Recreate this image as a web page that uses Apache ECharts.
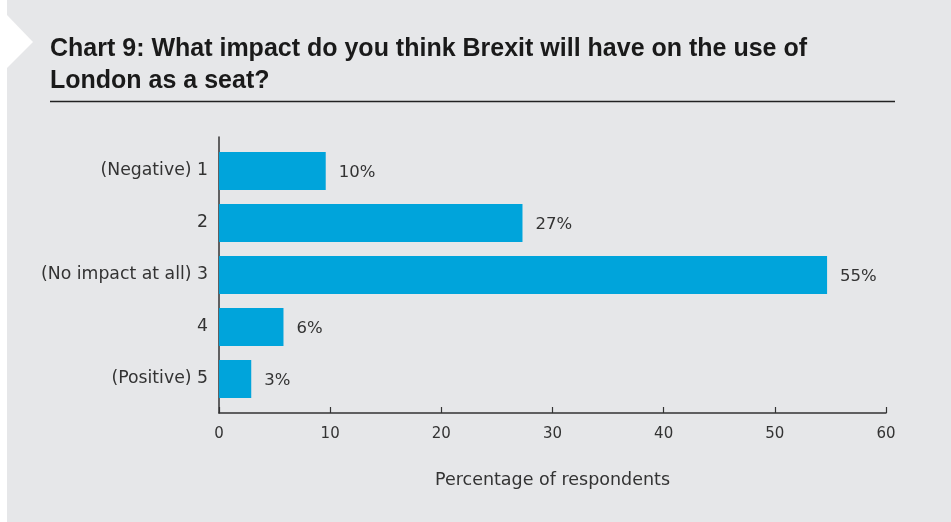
<!DOCTYPE html>
<html>
<head>
<meta charset="utf-8">
<script src="https://cdn.jsdelivr.net/npm/echarts@6/dist/echarts.min.js"></script>
<style>
html,body{margin:0;padding:0;background:#fff;}
#c{width:951px;height:522px;}
</style>
</head>
<body>
<div id="c"></div>
<script>
const titleText = 'Chart 9: What impact do you think Brexit will have on the use of\nLondon as a seat?';
const categories = ['(Negative) 1', '2', '(No impact at all) 3', '4', '(Positive) 5'];
const values = [9.6, 27.3, 54.7, 5.8, 2.9];
const valueLabels = ['10%', '27%', '55%', '6%', '3%'];
const xTicks = [0, 10, 20, 30, 40, 50, 60];
const xAxisName = 'Percentage of respondents';

const titleFont = '"Liberation Sans", Arial, Helvetica, sans-serif';
const font = '"DejaVu Sans", "Liberation Sans", sans-serif';
const chart = echarts.init(document.getElementById('c'), null, {renderer: 'canvas'});
const gridLeft = 219, gridRight = 951 - 886;
chart.setOption({
  backgroundColor: 'transparent',
  animation: false,
  graphic: [
    {type: 'rect', z: -10, shape: {x: 7, y: 0, width: 944, height: 522}, style: {fill: '#e6e7e9'}},
    {type: 'polygon', z: -9, shape: {points: [[7, 15], [33, 42], [7, 68]]}, style: {fill: '#ffffff'}},
    {type: 'line', shape: {x1: 50, y1: 101.5, x2: 895, y2: 101.5}, style: {stroke: '#222', lineWidth: 1.5}}
  ],
  title: {
    text: titleText,
    left: 45, top: 28,
    textStyle: {fontFamily: titleFont, fontSize: 25, fontWeight: 'bold', color: '#1a1a1a', lineHeight: 32}
  },
  grid: [
    {left: gridLeft, right: gridRight, top: 145, bottom: 522 - 405},
    {left: gridLeft, right: gridRight, top: 137, bottom: 522 - 413}
  ],
  xAxis: [
    {type: 'value', gridIndex: 0, min: xTicks[0], max: xTicks[xTicks.length - 1], interval: 10, show: false},
    {type: 'value', gridIndex: 1, min: xTicks[0], max: xTicks[xTicks.length - 1], interval: 10,
      axisLine: {show: true, lineStyle: {color: '#333', width: 1.5}},
      axisTick: {show: true, inside: true, length: 6, lineStyle: {color: '#333', width: 1.2}},
      axisLabel: {color: '#333', fontFamily: font, fontSize: 15, margin: 14},
      splitLine: {show: false},
      name: xAxisName, nameLocation: 'middle', nameGap: 58,
      nameTextStyle: {color: '#333', fontFamily: font, fontSize: 17.5}
    }
  ],
  yAxis: [
    {type: 'category', gridIndex: 0, data: categories, inverse: true,
      axisLine: {show: false}, axisTick: {show: false},
      axisLabel: {color: '#333', fontFamily: font, fontSize: 17.3, margin: 11}
    },
    {type: 'value', gridIndex: 1, min: 0, max: 1,
      axisLine: {show: true, lineStyle: {color: '#333', width: 1.5}},
      axisTick: {show: false}, axisLabel: {show: false}, splitLine: {show: false}
    }
  ],
  series: [{
    type: 'bar', xAxisIndex: 0, yAxisIndex: 0,
    data: values, barWidth: 38,
    itemStyle: {color: '#00a4db'},
    label: {
      show: true, position: 'right', distance: 13, offset: [0, 1.5],
      formatter: p => valueLabels[p.dataIndex],
      color: '#333', fontFamily: font, fontSize: 16.5
    }
  }]
});
</script>
</body>
</html>
